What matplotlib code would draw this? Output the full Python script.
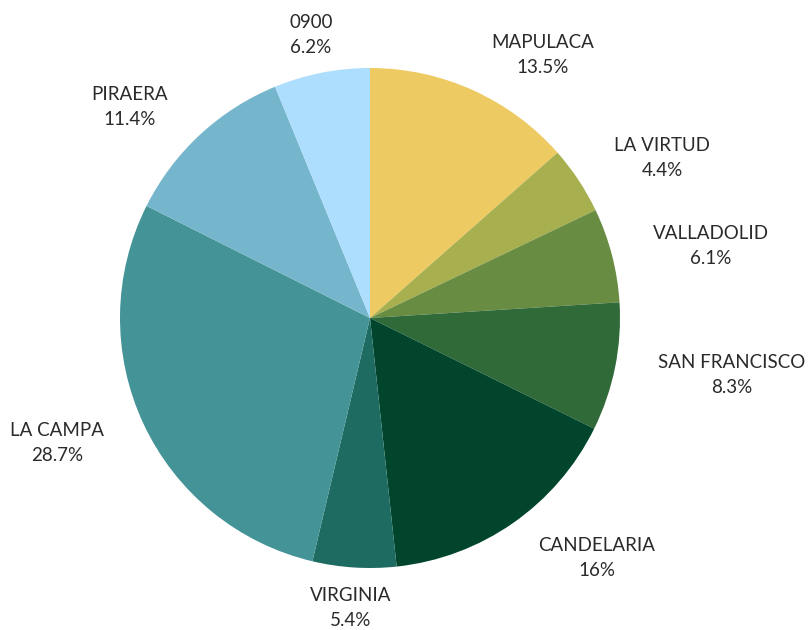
import matplotlib
matplotlib.use("Agg")
import matplotlib.pyplot as plt

categories = ["MAPULACA", "LA VIRTUD", "VALLADOLID", "SAN FRANCISCO", "CANDELARIA",
              "VIRGINIA", "LA CAMPA", "PIRAERA", "0900"]
values = [13.5, 4.4, 6.1, 8.3, 16, 5.4, 28.7, 11.4, 6.2]
value_labels = ["13.5%", "4.4%", "6.1%", "8.3%", "16%", "5.4%", "28.7%", "11.4%", "6.2%"]

colors = ["#EECA62", "#A8AF4F", "#688C42", "#316A39", "#00452C",
          "#1E6B62", "#449497", "#75B6CC", "#AEDEFE"]
# label centres, in pie-radius units
label_pos = [(0.692, 1.052), (1.168, 0.64), (1.364, 0.288), (1.448, -0.228),
             (0.908, -0.96), (-0.076, -1.16), (-1.252, -0.5), (-0.96, 0.844),
             (-0.236, 1.132)]

fig = plt.figure(figsize=(8.11, 6.3), dpi=100)
ax = fig.add_axes([0, 0, 1, 1])
ax.pie(values, colors=colors, startangle=90, counterclock=False, radius=1,
       wedgeprops=dict(linewidth=0))
ax.set_xlim(-1.48, 1.764)
ax.set_ylim(-1.248, 1.272)
ax.set_aspect("equal")
ax.axis("off")

for name, lab, (x, y) in zip(categories, value_labels, label_pos):
    ax.text(x, y, name + "\n" + lab, ha="center", va="center", fontsize=13.5,
            family="Lato", color="#2a2a2a", linespacing=1.62)

fig.savefig("out.png", dpi=100)
